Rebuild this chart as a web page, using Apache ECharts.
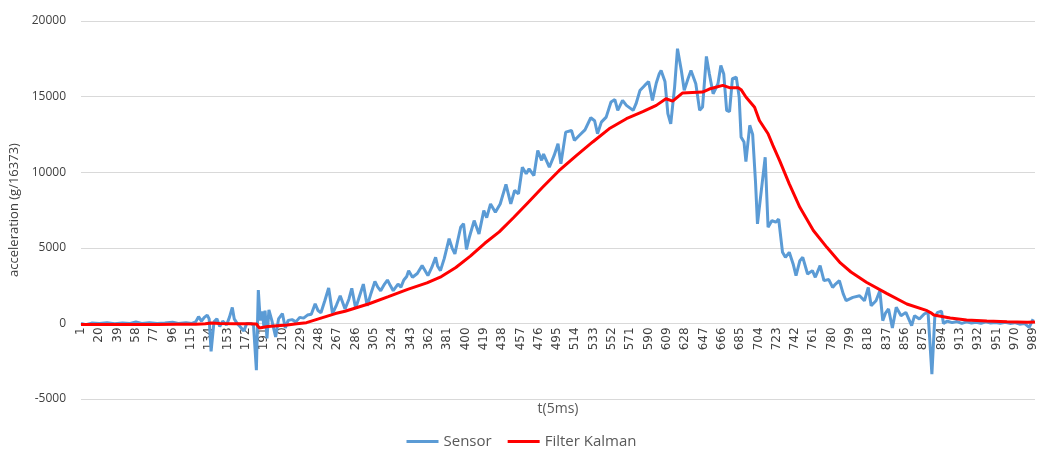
<!DOCTYPE html>
<html>
<head>
<meta charset="utf-8">
<script src="https://cdn.jsdelivr.net/npm/echarts@6/dist/echarts.min.js"></script>
<style>
  html, body { margin: 0; padding: 0; background: #fff; }
  #main { width: 1043px; height: 455px; }
</style>
</head>
<body>
<div id="main"></div>
<script>
// x axis tick labels (sample index, every 19 samples)
var tickLabels = [];
for (var k = 1; k <= 989; k += 19) tickLabels.push(k);

// Sensor: sample index / raw acceleration
var sensorT = [1, 6, 12, 20, 28, 36, 44, 52, 58, 64, 72, 80, 88, 96, 102, 110, 116, 120, 123, 126,
  129, 132, 134, 136, 139, 142, 145, 148, 152, 155, 158, 160, 163, 166, 170, 173, 177, 180, 183, 185,
  187, 189, 191, 192, 194, 196, 199, 203, 206, 210, 213, 216, 220, 224, 228, 232, 236, 240, 244, 247,
  250, 254, 258, 262, 266, 270, 275, 279, 282, 286, 290, 294, 298, 302, 306, 309, 312, 316, 319, 322,
  325, 330, 333, 336, 339, 341, 345, 350, 355, 358, 361, 365, 369, 371, 374, 378, 383, 386, 389, 392,
  395, 398, 401, 404, 409, 414, 419, 422, 426, 431, 436, 442, 447, 451, 455, 459, 463, 466, 471, 475,
  479, 481, 487, 492, 496, 499, 504, 510, 513, 518, 524, 530, 534, 537, 541, 546, 551, 555, 558, 563,
  567, 574, 577, 581, 586, 590, 594, 598, 601, 603, 607, 610, 613, 617, 620, 624, 627, 631, 634, 639,
  643, 646, 650, 653, 657, 662, 665, 668, 671, 674, 677, 681, 684, 686, 689, 691, 695, 698, 701, 703,
  707, 711, 714, 718, 722, 725, 729, 732, 736, 740, 743, 747, 750, 755, 760, 763, 768, 772, 777, 781,
  784, 788, 792, 795, 802, 809, 814, 818, 821, 826, 830, 833, 836, 839, 843, 847, 852, 857, 863, 866,
  871, 876, 880, 882, 884, 887, 890, 894, 896, 900, 905, 910, 915, 920, 925, 930, 935, 940, 945, 950,
  955, 960, 965, 970, 975, 980, 985, 989];
var sensorV = [0, -80, 20, 0, 40, -20, 30, 0, 90, 0, 40, 0, 30, 80, 0, 40, 0, 100, 450, 150,
  400, 550, 300, -1850, 100, 300, -200, 150, -100, 400, 1050, 300, 0, -200, -500, 0, 0, -100, -3100, 2200,
  200, 800, -300, 850, -1000, 900, 200, -900, 300, 650, -300, 200, 250, 100, 400, 350, 550, 600, 1300, 850,
  700, 1500, 2340, 650, 1200, 1830, 950, 1600, 2320, 1000, 1800, 2600, 1170, 2000, 2780, 2400, 2160, 2600, 2870, 2500,
  2160, 2600, 2400, 2870, 3100, 3490, 3050, 3300, 3820, 3500, 3160, 3700, 4370, 3800, 3490, 4300, 5600, 5000, 4600, 5500,
  6360, 6600, 4900, 5700, 6800, 5920, 7460, 7000, 7900, 7350, 7900, 9190, 7910, 8790, 8570, 10330, 9890, 10220, 9780, 11440,
  10780, 11200, 10330, 11110, 11880, 10560, 12650, 12760, 12100, 12430, 12800, 13600, 13400, 12540, 13310, 13640, 14640, 14800, 14090, 14750,
  14420, 14090, 14530, 15400, 15740, 16000, 14750, 15900, 16500, 16730, 16000, 13870, 13200, 15630, 18170, 16730, 15410, 16200, 16730, 15850,
  14090, 14310, 17660, 16520, 15190, 15850, 17060, 16500, 14090, 14000, 16190, 16290, 14970, 12320, 12000, 10700, 13100, 12500, 9300, 6580,
  8800, 10990, 6360, 6800, 6690, 6900, 4700, 4370, 4700, 3930, 3160, 4150, 4370, 3270, 3490, 3050, 3820, 2830, 2900, 2380,
  2600, 2830, 1950, 1500, 1720, 1830, 1500, 2380, 1170, 1500, 2160, 180, 700, 950, -300, 1060, 510, 730, -150, 510,
  290, 620, 750, 840, -3350, 400, 730, 800, 0, 150, 50, 120, 0, 100, 30, 80, 0, 100, 20, 60,
  0, 80, 0, 50, -50, 0, -260, 290];

// Filter Kalman: sample index / filtered acceleration
var kalmanT = [1, 20, 40, 60, 80, 100, 120, 130, 136, 145, 160, 175, 183, 186, 195, 205, 215, 225, 235, 245,
  255, 265, 275, 285, 300, 320, 340, 360, 375, 390, 405, 420, 435, 450, 465, 480, 497, 515, 532, 549,
  567, 584, 598, 608, 615, 625, 646, 653, 667, 674, 683, 686, 691, 700, 705, 714, 719, 726, 736, 747,
  761, 775, 789, 800, 816, 837, 858, 879, 883, 886, 903, 920, 941, 962, 983, 991];
var kalmanV = [-80, -80, -70, -80, -70, -60, -60, -20, 20, 0, -20, -20, -40, -300, -200, -150, -100, -30, 50, 250,
  450, 650, 800, 1000, 1300, 1770, 2250, 2680, 3100, 3700, 4450, 5300, 6050, 7000, 8000, 9000, 10100, 11100, 12000, 12870,
  13540, 14000, 14420, 14860, 14700, 15230, 15300, 15500, 15740, 15590, 15590, 15460, 14970, 14300, 13420, 12540, 11770, 10770, 9230, 7680,
  6140, 5030, 4000, 3400, 2720, 1990, 1285, 840, 700, 560, 360, 225, 160, 110, 70, 100];

function pairs(ts, vs) {
  return ts.map(function (t, i) { return [t, vs[i]]; });
}

var myChart = echarts.init(document.getElementById('main'));

// grid height 378px; value 0 sits 1/5 of it above the bottom edge
var zeroOffset = -378 / 5;

myChart.setOption({
    animation: false,
    grid: { left: 81, right: 8, top: 21, bottom: 56, containLabel: false, outerBoundsMode: 'none' },
    legend: {
        bottom: 1,
        left: 'center',
        icon: 'rect',
        itemWidth: 32,
        itemHeight: 3,
        itemGap: 16,
        itemStyle: { borderWidth: 0 },
        textStyle: { color: '#595959', fontSize: 15, fontFamily: 'Open Sans' },
        data: ['Sensor', 'Filter Kalman']
    },
    xAxis: {
        type: 'value',
        min: 1,
        max: 991,
        offset: zeroOffset,
        name: 't(5ms)',
        nameLocation: 'middle',
        nameGap: 79,
        nameTextStyle: { color: '#595959', fontSize: 14, fontFamily: 'Open Sans' },
        axisLine: { onZero: false, lineStyle: { color: '#d9d9d9', width: 1 } },
        axisTick: { show: false },
        splitLine: { show: false },
        axisLabel: {
            customValues: tickLabels,
            rotate: 90,
            margin: 4,
            color: '#404040',
            fontSize: 12,
            fontFamily: 'DejaVu Sans'
        }
    },
    yAxis: {
        type: 'value',
        min: -5000,
        max: 20000,
        interval: 5000,
        name: 'acceleration (g/16373)',
        nameLocation: 'middle',
        nameGap: 60,
        nameTextStyle: { color: '#404040', fontSize: 13, fontFamily: 'Open Sans' },
        axisLine: { show: false },
        axisTick: { show: false },
        splitLine: { lineStyle: { color: '#d9d9d9', width: 1 } },
        axisLabel: {
            color: '#404040', fontSize: 12, margin: 15, fontFamily: 'Open Sans',
            formatter: function (v) { return String(v); }
        }
    },
    series: [{
        name: 'Sensor',
        type: 'line',
        showSymbol: false,
        color: '#5B9BD5',
        lineStyle: { width: 3, color: '#5B9BD5' },
        data: pairs(sensorT, sensorV)
    }, {
        name: 'Filter Kalman',
        type: 'line',
        showSymbol: false,
        color: '#FF0000',
        lineStyle: { width: 3, color: '#FF0000' },
        data: pairs(kalmanT, kalmanV)
    }]
});
</script>
</body>
</html>
